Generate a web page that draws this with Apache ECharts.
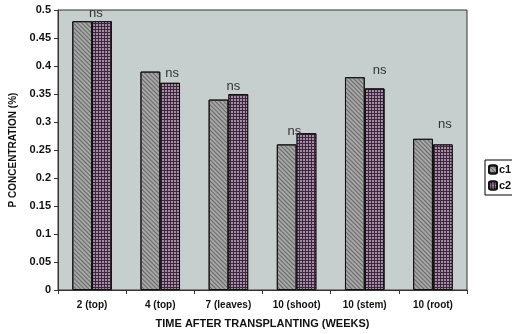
<!DOCTYPE html>
<html>
<head>
<meta charset="utf-8">
<script src="https://cdn.jsdelivr.net/npm/echarts@6/dist/echarts.min.js"></script>
<style>
  html, body { margin: 0; padding: 0; background: #fff; }
  #chart { width: 512px; height: 334px; }
</style>
</head>
<body>
<div id="chart"></div>
<script>
// Sampling times / plant parts
const categories = ['2 (top)', '4 (top)', '7 (leaves)', '10 (shoot)', '10 (stem)', '10 (root)'];
// P concentration (%) per treatment
const c1 = [0.48, 0.39, 0.34, 0.26, 0.38, 0.27];
const c2 = [0.48, 0.37, 0.35, 0.28, 0.36, 0.26];
// Significance marks shown above each pair
const significance = ['ns', 'ns', 'ns', 'ns', 'ns', 'ns'];
// Label nudges [x, y] for each significance mark
const sigOffsets = [[-6, 2], [2, 0], [-5, 2], [-12, 8], [5, -8], [2, -10]];

const chart = echarts.init(document.getElementById('chart'));

const font = 'Liberation Sans, Arial, sans-serif';

const option = {
  backgroundColor: '#ffffff',
  animation: false,
  grid: {
    left: 55, right: 45, top: 10, bottom: 41,
    show: true,
    backgroundColor: '#c6cece',
    borderColor: '#333',
    borderWidth: 1
  },
  legend: {
    orient: 'vertical',
    left: 485, top: 160,
    itemWidth: 8, itemHeight: 8, itemGap: 5,
    padding: [4, 8, 4, 3],
    backgroundColor: '#fff',
    borderColor: '#000', borderWidth: 1,
    textStyle: { fontFamily: font, fontWeight: 'bold', fontSize: 11, color: '#111', padding: [0, 0, 0, -3] },
    data: ['c1', 'c2']
  },
  xAxis: {
    type: 'category',
    data: categories,
    name: 'TIME AFTER TRANSPLANTING (WEEKS)',
    nameLocation: 'middle',
    nameGap: 28,
    nameTextStyle: { fontFamily: font, fontWeight: 'bold', fontSize: 11, color: '#111' },
    axisLine: { lineStyle: { color: '#333', width: 1 } },
    axisTick: { show: true, alignWithLabel: false, length: 4, lineStyle: { color: '#333' } },
    axisLabel: { interval: 0, fontFamily: font, fontWeight: 'bold', fontSize: 10, color: '#111', margin: 10 }
  },
  yAxis: {
    type: 'value',
    min: 0, max: 0.5, interval: 0.05,
    name: 'P CONCENTRATION (%)',
    nameLocation: 'middle',
    nameGap: 40,
    nameTextStyle: { fontFamily: font, fontWeight: 'bold', fontSize: 10, color: '#111' },
    axisLine: { show: true, lineStyle: { color: '#333', width: 1 } },
    axisTick: { show: true, length: 4, lineStyle: { color: '#333' } },
    splitLine: { show: false },
    axisLabel: {
      fontFamily: font, fontWeight: 'bold', fontSize: 11, color: '#111', margin: 7,
      formatter: v => String(+v.toFixed(2))
    }
  },
  series: [
    {
      name: 'c1',
      type: 'bar',
      data: c1,
      barGap: '0%',
      barCategoryGap: '42%',
      itemStyle: {
        color: '#a6a6a6',
        borderColor: '#111',
        borderWidth: 1,
        decal: {
          symbol: 'rect',
          symbolSize: 1,
          color: '#686868',
          dashArrayX: [1, 0],
          dashArrayY: [1, 2],
          rotation: Math.PI / 4
        }
      }
    },
    {
      name: 'c2',
      type: 'bar',
      data: c2.map((v, i) => ({
        value: v,
        label: {
          show: true,
          formatter: significance[i],
          position: 'top',
          distance: 3,
          offset: sigOffsets[i]
        }
      })),
      label: { fontFamily: font, fontSize: 13, color: '#333' },
      itemStyle: {
        color: '#3e2640',
        borderColor: '#111',
        borderWidth: 1,
        decal: {
          symbol: 'rect',
          symbolSize: 1,
          color: '#a48fa2',
          dashArrayX: [2, 1],
          dashArrayY: [2, 1],
          rotation: 0
        }
      }
    }
  ]
};

chart.setOption(option);
</script>
</body>
</html>
